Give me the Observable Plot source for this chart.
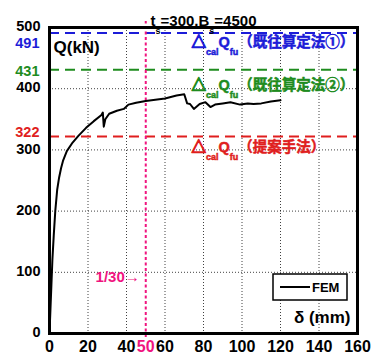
<!DOCTYPE html>
<html>
<head>
<meta charset="utf-8">
<script src="https://cdn.jsdelivr.net/npm/d3@7"></script>
<script src="https://cdn.jsdelivr.net/npm/@observablehq/plot@0.6"></script>
<style>
  html, body { margin: 0; padding: 0; background: white; }
  #chart svg { display: block; }
</style>
</head>
<body>
<div id="chart"></div>
<script>
// ---- data ----
const delta = [0, 0.5, 1, 1.5, 2.2, 3, 4, 5, 6, 7, 9, 12, 15, 19, 23, 27, 27.7, 28.2, 29, 31, 35, 38.6, 41, 45, 50, 55, 60, 66, 70, 71.5, 73, 75, 78, 81, 83.6, 86, 90, 94, 99, 103, 106, 110, 115, 120];
const load  = [0, 40, 80, 120, 160, 200, 235, 255, 270, 282, 298, 312, 323, 336, 347, 357, 361, 338, 350, 359, 364, 367, 374, 377, 380, 382, 384, 389, 391, 376, 375, 367, 375, 378, 370, 374, 376, 378, 374, 376, 375, 376, 379, 381];

const refValues = [491, 431, 322];
const refNames  = ["△_{cal}Q_{fu}（既往算定法①）", "△_{cal}Q_{fu}（既往算定法②）", "△_{cal}Q_{fu}（提案手法）"];
const refColors = ["#1c1cd8", "#1e8c1e", "#e01e1e"];

const yTicks = [0, 100, 200, 300, 400, 500];
const xTicks = [0, 20, 40, 60, 80, 100, 120, 140, 160];
const driftValue = 50;
const driftLabel = "1/30→";
const titleText = "t_{s}=300,B_{s}=4500";
const seriesName = "FEM";

// ---- build tables ----
const curve = delta.map((d, i) => ({d, q: load[i]}));
const refs = refValues.map((v, i) => ({v, name: refNames[i], color: refColors[i]}));
const labelShift = [10, 2, -4];    // y-label offsets (px) to avoid overlap
const annShift = [9, 15.5, 10.5];  // annotation offsets (px) below the line

const FONT = "'Liberation Sans', 'Noto Sans CJK JP', sans-serif";
const magenta = "#f0147f";

const plot = Plot.plot({
  width: 379,
  height: 358,
  marginLeft: 49,
  marginRight: 22,
  marginTop: 27,
  marginBottom: 25,
  style: {fontFamily: FONT, background: "white", overflow: "visible"},
  x: {domain: [0, 160], axis: null},
  y: {domain: [0, 500], axis: null},
  marks: [
    // grid
    Plot.ruleX(xTicks.slice(1, -1), {stroke: "black", strokeWidth: 1, strokeDasharray: "1,2", strokeOpacity: 0.75}),
    Plot.ruleY(yTicks.slice(1, -1), {stroke: "black", strokeWidth: 1, strokeDasharray: "1,2", strokeOpacity: 0.75}),
    // reference lines
    Plot.ruleY(refs, {y: "v", x1: 0, x2: 160.5, stroke: "color", strokeWidth: 2, strokeDasharray: "10,6"}),
    // drift line
    Plot.ruleX([driftValue], {y1: -6.5, y2: 510, stroke: magenta, strokeWidth: 2, strokeDasharray: "3,2.5"}),
    // curve
    Plot.line(curve, {x: "d", y: "q", stroke: "black", strokeWidth: 2}),
    // frame
    Plot.frame({stroke: "black", strokeWidth: 3}),
    // y tick labels
    Plot.text(yTicks, {x: 0, y: d => d, text: d => String(d), textAnchor: "end", dx: -9, dy: -1, fontSize: 14.5, fontWeight: "bold", fill: "black"}),
    // x tick labels
    Plot.text(xTicks, {x: d => d, y: 0, text: d => String(d), dy: 13, fontSize: 16, fontWeight: "bold", fill: "black"}),
    Plot.text([driftValue], {x: d => d, y: 0, text: d => String(d), dy: 13, fontSize: 16, fontWeight: "bold", fill: magenta}),
    // colored ref value labels
    ...refs.map((r, i) => Plot.text([r], {x: 0, y: "v", text: d => String(d.v), textAnchor: "end", dx: -10, dy: labelShift[i], fill: "color", fontSize: 14.5, fontWeight: "bold"})),
    // annotations
    ...refs.map((r, i) => Plot.text([r], {x: 73.8, y: "v", text: "name", textAnchor: "start", dy: annShift[i], fill: "color", stroke: "color", strokeWidth: 0.5, fontSize: 14.5, fontWeight: "bold"})),
    // drift label
    Plot.text([driftLabel], {x: driftValue, y: 100, text: d => d, textAnchor: "end", dx: -6, dy: 5, fill: magenta, fontSize: 15, fontWeight: "bold"}),
    // axis titles
    Plot.text(["Q(kN)"], {frameAnchor: "top-left", text: d => d, textAnchor: "start", dx: 4, dy: 13.5, fontSize: 17, fontWeight: "bold", fill: "black"}),
    Plot.text(["δ (mm)"], {frameAnchor: "bottom-right", text: d => d, textAnchor: "end", dx: -7, dy: -11, fontSize: 17, fontWeight: "bold", fill: "black"}),
    // title
    Plot.text([titleText], {frameAnchor: "top", text: d => d, dy: -12.5, fontSize: 15, fontWeight: "bold", fill: "black"})
  ]
});

// convert _{...} to subscript tspans
d3.select(plot).selectAll("text").each(function() {
  const el = this;
  if (el.querySelector("tspan")) return;
  const s = el.textContent;
  if (!s.includes("_{")) return;
  el.textContent = "";
  const parts = s.split(/(_\{[^}]*\})/).filter(p => p.length);
  let sub = false;
  parts.forEach(p => {
    const t = document.createElementNS("http://www.w3.org/2000/svg", "tspan");
    if (p.startsWith("_{")) {
      t.textContent = p.slice(2, -1);
      t.setAttribute("font-size", "9");
      t.setAttribute("dy", "8");
      sub = true;
    } else {
      t.textContent = p;
      if (sub) t.setAttribute("dy", "-8");
      if (p.startsWith("△")) t.setAttribute("stroke-width", "1.3");
      sub = false;
    }
    el.appendChild(t);
  });
});

// legend box
const xs = plot.scale("x"), ys = plot.scale("y");
const right = xs.apply(160) - 10, bottom = ys.apply(0) - 33;
const lw = 74, lh = 26;
const g = d3.select(plot).append("g").attr("text-anchor", "start");
g.append("rect").attr("x", right - lw).attr("y", bottom - lh).attr("width", lw).attr("height", lh)
  .attr("fill", "white").attr("stroke", "black").attr("stroke-width", 1.5);
g.append("line").attr("x1", right - lw + 7).attr("x2", right - lw + 37)
  .attr("y1", bottom - lh / 2).attr("y2", bottom - lh / 2).attr("stroke", "black").attr("stroke-width", 2);
g.append("text").attr("x", right - lw + 39).attr("y", bottom - lh / 2).attr("dy", "0.36em")
  .attr("text-anchor", "start")
  .attr("font-family", FONT).attr("font-size", 13).attr("font-weight", "bold").text(seriesName);

document.getElementById("chart").appendChild(plot);
</script>
</body>
</html>
